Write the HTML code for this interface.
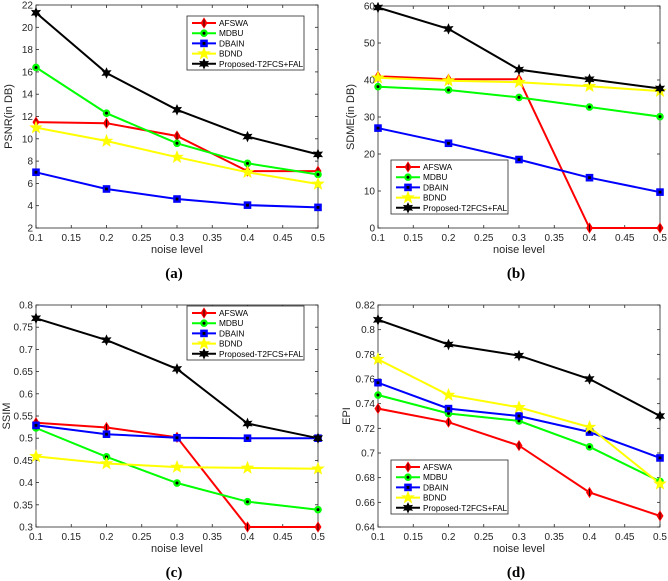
<!DOCTYPE html>
<html><head><meta charset="utf-8">
<style>
html,body{margin:0;padding:0;background:#fff;}
svg{display:block;font-family:"Liberation Sans",sans-serif;}
</style></head>
<body>
<svg id="fig" width="668" height="581" viewBox="0 0 668 581"></svg>
<script>
const xValues = [0.1, 0.2, 0.3, 0.4, 0.5];
const xTicks = [0.1, 0.15, 0.2, 0.25, 0.3, 0.35, 0.4, 0.45, 0.5];
const seriesNames = ["AFSWA", "MDBU", "DBAIN", "BDND", "Proposed-T2FCS+FAL"];

const psnrAFSWA = [11.5, 11.4, 10.25, 7.1, 7.1];
const psnrMDBU = [16.4, 12.3, 9.6, 7.8, 6.8];
const psnrDBAIN = [7.0, 5.5, 4.6, 4.05, 3.85];
const psnrBDND = [11.0, 9.8, 8.35, 7.0, 5.95];
const psnrProposed = [21.3, 15.9, 12.6, 10.2, 8.6];
const psnrTicks = [2, 4, 6, 8, 10, 12, 14, 16, 18, 20, 22];

const sdmeAFSWA = [41, 40.2, 40.2, 0, 0];
const sdmeMDBU = [38.2, 37.3, 35.3, 32.7, 30.1];
const sdmeDBAIN = [27, 22.9, 18.5, 13.6, 9.7];
const sdmeBDND = [40.6, 39.8, 39.4, 38.3, 37.0];
const sdmeProposed = [59.6, 53.8, 42.8, 40.2, 37.7];
const sdmeTicks = [0, 10, 20, 30, 40, 50, 60];

const ssimAFSWA = [0.535, 0.524, 0.502, 0.3, 0.3];
const ssimMDBU = [0.523, 0.458, 0.399, 0.357, 0.339];
const ssimDBAIN = [0.529, 0.509, 0.501, 0.500, 0.500];
const ssimBDND = [0.459, 0.443, 0.435, 0.433, 0.431];
const ssimProposed = [0.770, 0.721, 0.656, 0.533, 0.500];
const ssimTicks = [0.3, 0.35, 0.4, 0.45, 0.5, 0.55, 0.6, 0.65, 0.7, 0.75, 0.8];

const epiAFSWA = [0.736, 0.725, 0.706, 0.668, 0.649];
const epiMDBU = [0.747, 0.732, 0.726, 0.705, 0.677];
const epiDBAIN = [0.757, 0.736, 0.730, 0.717, 0.696];
const epiBDND = [0.776, 0.747, 0.737, 0.721, 0.675];
const epiProposed = [0.808, 0.788, 0.779, 0.760, 0.730];
const epiTicks = [0.64, 0.66, 0.68, 0.7, 0.72, 0.74, 0.76, 0.78, 0.8, 0.82];

const NS = "http://www.w3.org/2000/svg";
const svg = document.getElementById("fig");
const colors = ["#ff0000", "#00ff00", "#0000ff", "#ffff00", "#000000"];
function mk(tag, attrs, parent) {
  const e = document.createElementNS(NS, tag);
  for (const k in attrs) e.setAttribute(k, attrs[k]);
  (parent || svg).appendChild(e);
  return e;
}
function starPts(cx, cy, n, ro, ri) {
  let p = [];
  for (let i = 0; i < 2 * n; i++) {
    const a = -Math.PI / 2 + i * Math.PI / n;
    const r = i % 2 ? ri : ro;
    p.push((cx + r * Math.cos(a)).toFixed(1) + "," + (cy + r * Math.sin(a)).toFixed(1));
  }
  return p.join(" ");
}
function marker(g, idx, x, y) {
  const c = colors[idx];
  let m;
  if (idx === 0) {
    m = mk("polygon", { points: `${x},${y-4.5} ${x+2.8},${y} ${x},${y+4.5} ${x-2.8},${y}`, fill: c, stroke: c, "stroke-width": 1.2 }, g);
    mk("line", { x1: x, y1: y - 3.5, x2: x, y2: y + 3.5, stroke: "#000", "stroke-width": 0.8 }, g);
  } else if (idx === 1) {
    m = mk("circle", { cx: x, cy: y, r: 3.3, fill: c, stroke: c, "stroke-width": 1 }, g);
    mk("circle", { cx: x, cy: y, r: 1.5, fill: "#000" }, g);
  } else if (idx === 2) {
    m = mk("rect", { x: x - 3.3, y: y - 3.3, width: 6.6, height: 6.6, fill: c, stroke: c, "stroke-width": 1 }, g);
    mk("rect", { x: x - 1.4, y: y - 1.4, width: 2.8, height: 2.8, fill: "#000" }, g);
  } else if (idx === 3) {
    m = mk("polygon", { points: starPts(x, y, 5, 6, 2.5), fill: c, stroke: c, "stroke-width": 0.8 }, g);
  } else {
    m = mk("polygon", { points: starPts(x, y, 6, 4.8, 2.4), fill: "#000", stroke: "#000", "stroke-width": 0.8 }, g);
  }
  return m;
}

function panel(cfg) {
  const g = mk("g", {});
  
  
  const L = cfg.L, R = cfg.R, T = cfg.T, B = cfg.B;
  const ymin = cfg.yTicks[0], ymax = cfg.yTicks[cfg.yTicks.length - 1];
  const sx = v => L + (v - 0.1) / 0.4 * (R - L);
  const sy = v => B - (v - ymin) / (ymax - ymin) * (B - T);
  mk("rect", { x: L, y: T, width: R - L, height: B - T, fill: "#fff", stroke: "#262626", "stroke-width": 0.8 }, g);
  xTicks.forEach(t => {
    const x = sx(t);
    mk("line", { x1: x, y1: B, x2: x, y2: B - 3, stroke: "#262626", "stroke-width": 0.8 }, g);
    mk("line", { x1: x, y1: T, x2: x, y2: T + 3, stroke: "#262626", "stroke-width": 0.8 }, g);
    const tx = mk("text", { x: x, y: B + 13, "font-size": 10, fill: "#262626", "text-anchor": "middle" }, g);
    tx.textContent = String(t);
    
    
  });
  cfg.yTicks.forEach(t => {
    const y = sy(t);
    mk("line", { x1: L, y1: y, x2: L + 3, y2: y, stroke: "#262626", "stroke-width": 0.8 }, g);
    mk("line", { x1: R, y1: y, x2: R - 3, y2: y, stroke: "#262626", "stroke-width": 0.8 }, g);
    const tx = mk("text", { x: L - 3, y: y + 3.5, "font-size": 10, fill: "#262626", "text-anchor": "end" }, g);
    tx.textContent = String(t);
    
    
  });
  const xl = mk("text", { x: (L + R) / 2, y: B + 25, "font-size": 11, fill: "#262626", "text-anchor": "middle" }, g);
  xl.textContent = "noise level";
  
  
  const ylx = cfg.ylx, yly = (T + B) / 2;
  const yl = mk("text", { x: ylx, y: yly, "font-size": 11, fill: "#262626", "text-anchor": "middle", transform: `rotate(-90 ${ylx} ${yly})` }, g);
  yl.textContent = cfg.ylabel;
  
  
  const cap = mk("text", { x: (L + R) / 2 - 3, y: B + 50, "font-size": 15, "font-weight": "bold", "font-family": "Liberation Serif, serif", fill: "#000", "text-anchor": "middle" }, g);
  cap.textContent = cfg.caption;
  
  

  cfg.series.forEach((vals, i) => {
    const pts = vals.map((v, k) => sx(xValues[k]).toFixed(1) + "," + sy(v).toFixed(1)).join(" ");
    const pl = mk("polyline", { points: pts, fill: "none", stroke: colors[i], "stroke-width": 2 }, g);
    
    
  });
  cfg.series.forEach((vals, i) => {
    vals.forEach((v, k) => {
      const m = marker(g, i, sx(xValues[k]), sy(v));
      
      
    });
  });
  const lg = mk("g", {}, g);
  
  
  mk("rect", { x: cfg.lx, y: cfg.ly, width: 117, height: 54, fill: "#fff", stroke: "#262626", "stroke-width": 0.8 }, lg);
  seriesNames.forEach((n, i) => {
    const y = cfg.ly + 7 + i * 10.2;
    const ent = mk("g", {}, lg);
    
    
    mk("line", { x1: cfg.lx + 5, y1: y, x2: cfg.lx + 29, y2: y, stroke: colors[i], "stroke-width": 2 }, ent);
    marker(ent, i, cfg.lx + 17, y);
    const t = mk("text", { x: cfg.lx + 32, y: y + 3, "font-size": 8.3, fill: "#000" }, ent);
    t.textContent = n;
  });
}

panel({ name: "psnr-chart", L: 36, R: 318, T: 5, B: 228, yTicks: psnrTicks, ylabel: "PSNR(in DB)", ylx: 12, caption: "(a)",
  series: [psnrAFSWA, psnrMDBU, psnrDBAIN, psnrBDND, psnrProposed], lx: 187, ly: 16 });
panel({ name: "sdme-chart", L: 378, R: 660, T: 6, B: 228, yTicks: sdmeTicks, ylabel: "SDME(in DB)", ylx: 354, caption: "(b)",
  series: [sdmeAFSWA, sdmeMDBU, sdmeDBAIN, sdmeBDND, sdmeProposed], lx: 391, ly: 160 });
panel({ name: "ssim-chart", L: 36, R: 318, T: 305, B: 527, yTicks: ssimTicks, ylabel: "SSIM", ylx: 10, caption: "(c)",
  series: [ssimAFSWA, ssimMDBU, ssimDBAIN, ssimBDND, ssimProposed], lx: 187, ly: 306 });
panel({ name: "epi-chart", L: 378, R: 660, T: 305, B: 527, yTicks: epiTicks, ylabel: "EPI", ylx: 350, caption: "(d)",
  series: [epiAFSWA, epiMDBU, epiDBAIN, epiBDND, epiProposed], lx: 391, ly: 460 });
</script>
</body></html>
